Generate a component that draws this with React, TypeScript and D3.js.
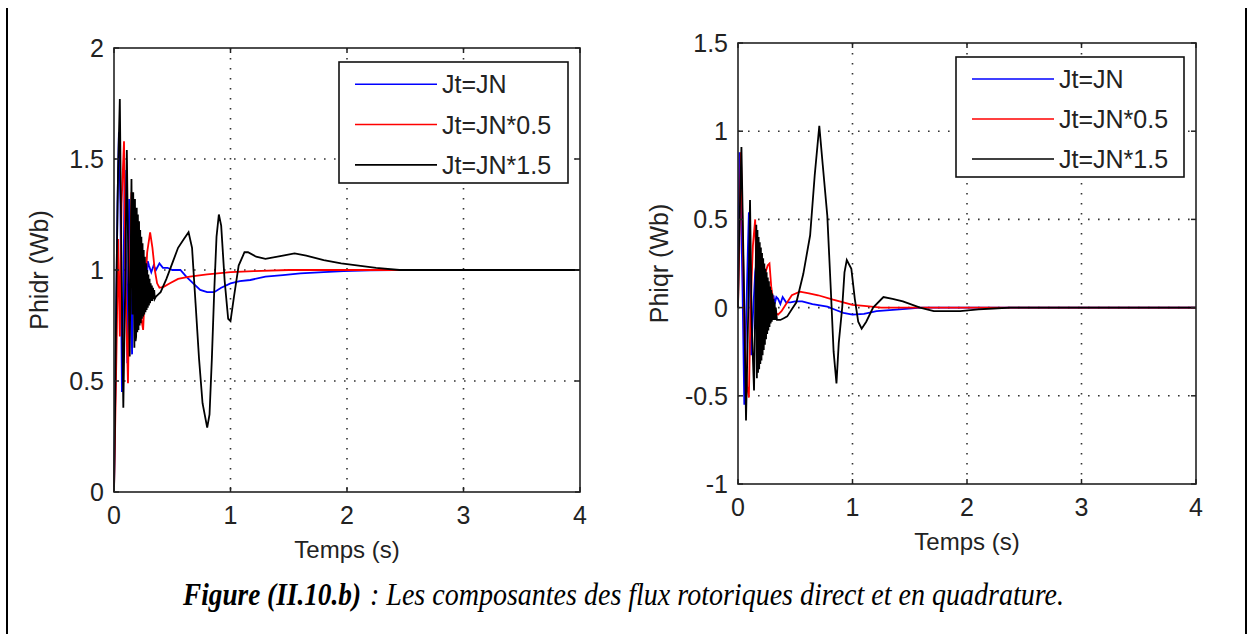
import React from 'react';
import * as d3 from 'd3';

// time ticks shared by both plots
const timeTicks = [0, 1, 2, 3, 4];
const phidrTicks = [0, 0.5, 1, 1.5, 2];
const phiqrTicks = [-1, -0.5, 0, 0.5, 1, 1.5];

const legendLabels = ['Jt=JN', 'Jt=JN*0.5', 'Jt=JN*1.5'];
const seriesColors = ['#0000ff', '#ff0000', '#000000'];

type Pt = [number, number];

// Phidr, Jt=JN
const phidrJN: Pt[] = [
  [0, 0], [0.008, 0.32], [0.015, 0.63], [0.03, 1.3], [0.042, 1.62], [0.055, 1.3], [0.068, 0.45],
  [0.08, 0.9], [0.092, 1.45], [0.105, 1.0], [0.115, 0.58], [0.13, 1.32], [0.145, 0.9], [0.155, 0.62],
  [0.17, 1.2], [0.185, 0.75], [0.2, 1.12], [0.215, 0.8], [0.23, 1.08], [0.245, 0.85], [0.26, 1.05],
  [0.275, 0.9], [0.29, 1.04], [0.3, 1.02], [0.32, 0.99], [0.34, 1.02], [0.36, 1.0], [0.39, 1.03],
  [0.42, 1.01], [0.46, 1.01], [0.5, 1.0], [0.57, 1.0], [0.62, 0.97], [0.68, 0.94], [0.74, 0.91],
  [0.8, 0.9], [0.86, 0.9], [0.92, 0.92], [1.0, 0.94], [1.08, 0.95], [1.17, 0.955], [1.3, 0.97],
  [1.45, 0.977], [1.6, 0.985], [1.8, 0.99], [1.97, 0.995], [2.2, 0.998], [2.4, 1.0], [4, 1.0],
];

// Phidr, Jt=JN*0.5
const phidrJN05: Pt[] = [
  [0, 0], [0.01, 0.3], [0.025, 0.75], [0.036, 1.14], [0.05, 0.7], [0.065, 1.3], [0.086, 1.58],
  [0.1, 0.9], [0.12, 0.49], [0.135, 1.0], [0.15, 1.35], [0.165, 1.2], [0.18, 0.85], [0.2, 1.1],
  [0.215, 0.95], [0.235, 0.78], [0.25, 0.73], [0.265, 0.9], [0.285, 1.08], [0.31, 1.17], [0.33, 1.1],
  [0.35, 1.0], [0.37, 0.94], [0.39, 0.92], [0.43, 0.925], [0.48, 0.94], [0.55, 0.96], [0.65, 0.97],
  [0.8, 0.98], [1.0, 0.99], [1.2, 0.995], [1.5, 1.0], [2.0, 1.0], [2.4, 1.0], [4, 1.0],
];

// Phidr, Jt=JN*1.5
const phidrJN15: Pt[] = [
  [0, 0], [0.008, 0.3], [0.02, 0.9], [0.035, 1.45], [0.05, 1.77], [0.065, 1.0], [0.08, 0.38],
  [0.095, 0.9], [0.11, 1.54], [0.125, 0.95], [0.135, 0.61], [0.15, 1.41], [0.158, 0.8], [0.165, 1.35],
  [0.175, 0.65], [0.18, 1.32], [0.185, 0.68], [0.19, 0.7], [0.195, 1.28], [0.2, 0.72], [0.205, 1.25],
  [0.21, 0.73], [0.215, 1.22],
  [0.22, 0.75], [0.225, 1.18], [0.23, 0.76], [0.235, 1.15], [0.24, 0.78], [0.245, 1.12], [0.25, 0.79],
  [0.255, 1.09], [0.26, 0.8], [0.265, 1.06], [0.27, 0.81], [0.275, 1.03], [0.28, 0.82], [0.285, 1.0],
  [0.29, 0.83], [0.295, 0.98], [0.3, 0.84], [0.305, 0.96], [0.31, 0.85], [0.315, 0.94], [0.32, 0.86],
  [0.325, 0.93], [0.33, 0.86], [0.335, 0.92], [0.34, 0.87], [0.345, 0.91], [0.35, 0.87], [0.36, 0.88],
  [0.38, 0.89], [0.4, 0.9], [0.45, 0.96], [0.5, 1.03], [0.55, 1.1], [0.6, 1.14], [0.64, 1.17],
  [0.67, 1.1], [0.7, 0.85], [0.73, 0.6], [0.76, 0.4], [0.8, 0.29], [0.82, 0.35], [0.84, 0.6],
  [0.86, 0.9], [0.88, 1.15], [0.9, 1.25], [0.92, 1.2], [0.95, 0.95], [0.98, 0.78], [1.0, 0.77],
  [1.03, 0.88], [1.07, 1.02], [1.12, 1.08], [1.15, 1.08], [1.22, 1.06], [1.3, 1.05], [1.45, 1.065],
  [1.55, 1.075], [1.65, 1.065], [1.8, 1.045], [1.95, 1.03], [2.1, 1.02], [2.25, 1.01], [2.45, 1.0],
  [4, 1.0],
];

// Phiqr, Jt=JN
const phiqrJN: Pt[] = [
  [0, 0], [0.005, 0.43], [0.012, 0.88], [0.025, 0.6], [0.04, 0.09], [0.055, -0.55], [0.07, -0.1],
  [0.085, 0.3], [0.095, 0.54], [0.105, 0.1], [0.115, -0.27], [0.13, -0.05], [0.15, 0.2], [0.165, 0.27],
  [0.175, 0.0], [0.185, -0.17], [0.2, 0.05], [0.21, 0.2], [0.225, 0.0], [0.235, -0.05], [0.25, 0.1],
  [0.265, 0.02], [0.28, 0.07], [0.295, 0.0], [0.31, 0.07], [0.32, 0.02], [0.335, 0.06], [0.35, 0.05],
  [0.37, 0.02], [0.39, 0.06], [0.42, 0.03], [0.46, 0.03], [0.5, 0.035], [0.56, 0.035], [0.65, 0.02],
  [0.78, 0.005], [0.86, -0.015], [0.92, -0.03], [1.0, -0.04], [1.1, -0.035], [1.21, -0.02],
  [1.41, -0.01], [1.6, 0], [4, 0],
];

// Phiqr, Jt=JN*0.5
const phiqrJN05: Pt[] = [
  [0, 0], [0.01, 0.3], [0.025, 0.88], [0.04, 0.45], [0.06, -0.2], [0.08, -0.45], [0.095, -0.51],
  [0.11, 0.0], [0.13, 0.35], [0.15, 0.5], [0.16, 0.2], [0.175, -0.15], [0.19, -0.2], [0.205, 0.05],
  [0.22, 0.18], [0.24, 0.2], [0.26, 0.24], [0.275, 0.25], [0.29, 0.12], [0.31, 0.02], [0.33, -0.03],
  [0.35, -0.04], [0.38, -0.02], [0.42, 0.02], [0.47, 0.07], [0.54, 0.09], [0.62, 0.08], [0.7, 0.07],
  [0.83, 0.045], [0.92, 0.03], [1.0, 0.015], [1.1, 0.01], [1.25, 0.0], [4, 0],
];

// Phiqr, Jt=JN*1.5
const phiqrJN15: Pt[] = [
  [0, 0], [0.005, 0.21], [0.01, 0.4], [0.03, 0.91], [0.05, 0.2], [0.07, -0.64], [0.09, 0.0],
  [0.105, 0.61], [0.12, -0.1], [0.14, -0.47], [0.16, 0.47], [0.165, -0.4], [0.17, 0.44], [0.175, -0.37],
  [0.18, 0.4], [0.185, -0.35], [0.19, 0.37], [0.195, -0.32], [0.2, 0.34], [0.205, -0.3], [0.21, 0.31],
  [0.215, -0.27], [0.22, 0.28], [0.225, -0.24], [0.23, 0.25], [0.235, -0.21], [0.24, 0.22],
  [0.245, -0.18], [0.25, 0.2], [0.255, -0.15], [0.26, 0.17], [0.265, -0.13], [0.27, 0.15],
  [0.275, -0.11], [0.28, 0.12], [0.285, -0.09], [0.29, 0.1], [0.295, -0.08], [0.3, 0.08], [0.305, -0.07],
  [0.31, 0.05], [0.315, -0.07], [0.32, 0.03], [0.325, -0.07], [0.33, 0.0], [0.34, -0.07], [0.37, -0.07],
  [0.4, -0.06], [0.43, -0.05], [0.47, -0.01], [0.51, 0.03], [0.57, 0.19], [0.63, 0.41], [0.67, 0.75],
  [0.71, 1.03], [0.74, 0.81], [0.78, 0.52], [0.81, 0.11], [0.835, -0.25], [0.86, -0.43], [0.88, -0.2],
  [0.91, 0.0], [0.93, 0.2], [0.95, 0.27], [0.99, 0.22], [1.02, 0.05], [1.05, -0.08], [1.08, -0.12],
  [1.12, -0.08], [1.18, 0.0], [1.27, 0.06], [1.35, 0.05], [1.44, 0.035], [1.59, 0.0], [1.71, -0.02],
  [1.94, -0.02], [2.1, -0.01], [2.23, -0.005], [2.38, 0], [4, 0],
];

const FONT = '"Liberation Sans", Arial, sans-serif';
const SERIF = '"Liberation Serif", "Times New Roman", serif';
const AX = '#222';

type PanelProps = {
  left: number; top: number; right: number; bottom: number;
  yDomain: [number, number]; yTicks: number[]; yLabel: string; yLabelX: number;
  xLabelY: number; series: Pt[][];
  legend: { x: number; y: number; w: number; h: number };
};

function Panel(p: PanelProps) {
  const x = d3.scaleLinear().domain([0, 4]).range([p.left, p.right]);
  const y = d3.scaleLinear().domain(p.yDomain).range([p.bottom, p.top]);
  const line = d3.line<Pt>().x(d => x(d[0])).y(d => y(d[1]));
  const tk = 5;
  const cx = (p.left + p.right) / 2;
  const cy = (p.top + p.bottom) / 2;
  const rowH = p.legend.h / 3;

  return (
    <g>
      {/* grid */}
      {timeTicks.slice(1, -1).map(t => (
        <line key={'gx' + t} x1={x(t)} x2={x(t)} y1={p.top} y2={p.bottom}
          stroke="#333" strokeWidth={1.6} strokeDasharray="1.6 8.4" />
      ))}
      {p.yTicks.slice(1, -1).map(v => (
        <line key={'gy' + v} x1={p.left} x2={p.right} y1={y(v)} y2={y(v)}
          stroke="#333" strokeWidth={1.6} strokeDasharray="1.6 8.4" />
      ))}
      {/* curves */}
      {p.series.map((s, i) => (
        <path key={'s' + i} d={line(s) || ''} fill="none" stroke={seriesColors[i]}
          strokeWidth={1.8} strokeLinejoin="miter" />
      ))}
      {/* box and ticks */}
      <rect x={p.left} y={p.top} width={p.right - p.left} height={p.bottom - p.top}
        fill="none" stroke={AX} strokeWidth={1.6} />
      {timeTicks.map(t => (
        <g key={'tx' + t}>
          <line x1={x(t)} x2={x(t)} y1={p.bottom} y2={p.bottom - tk} stroke={AX} strokeWidth={1.5} />
          <line x1={x(t)} x2={x(t)} y1={p.top} y2={p.top + tk} stroke={AX} strokeWidth={1.5} />
          <text x={x(t)} y={p.bottom + 32} textAnchor="middle" fontFamily={FONT} fontSize={25} fill={AX}>{t}</text>
        </g>
      ))}
      {p.yTicks.map(v => (
        <g key={'ty' + v}>
          <line x1={p.left} x2={p.left + tk} y1={y(v)} y2={y(v)} stroke={AX} strokeWidth={1.5} />
          <line x1={p.right} x2={p.right - tk} y1={y(v)} y2={y(v)} stroke={AX} strokeWidth={1.5} />
          <text x={p.left - 10} y={y(v) + 9} textAnchor="end" fontFamily={FONT} fontSize={25} fill={AX}>{v}</text>
        </g>
      ))}
      <text x={cx} y={p.xLabelY} textAnchor="middle" fontFamily={FONT} fontSize={24} fill={AX}>Temps (s)</text>
      <text transform={`translate(${p.yLabelX},${cy}) rotate(-90)`} textAnchor="middle"
        fontFamily={FONT} fontSize={25} fill={AX}>{p.yLabel}</text>
      {/* legend */}
      <rect x={p.legend.x} y={p.legend.y} width={p.legend.w} height={p.legend.h}
        fill="#fff" stroke="#111" strokeWidth={1.6} />
      {legendLabels.map((lab, i) => {
        const ly = p.legend.y + rowH * (i + 0.55);
        return (
          <g key={lab}>
            <line x1={p.legend.x + 16} x2={p.legend.x + 98} y1={ly} y2={ly}
              stroke={seriesColors[i]} strokeWidth={1.6} />
            <text x={p.legend.x + 103} y={ly + 9} fontFamily={FONT} fontSize={25} fill={AX}>{lab}</text>
          </g>
        );
      })}
    </g>
  );
}

export default function App() {
  return (
    <svg width={1253} height={634} style={{ position: 'absolute', left: 0, top: 0, background: '#fff' }}>
      <rect x={0} y={0} width={1253} height={634} fill="#fff" />
      <line x1={7} x2={7} y1={8} y2={634} stroke="#000" strokeWidth={2} />
      <line x1={1246} x2={1246} y1={8} y2={634} stroke="#000" strokeWidth={2} />
      <Panel left={114} top={48} right={580} bottom={492}
        yDomain={[0, 2]} yTicks={phidrTicks} yLabel="Phidr (Wb)" yLabelX={48} xLabelY={558}
        series={[phidrJN, phidrJN05, phidrJN15]}
        legend={{ x: 339, y: 62, w: 229, h: 121 }} />
      <Panel left={738} top={43} right={1196} bottom={484}
        yDomain={[-1, 1.5]} yTicks={phiqrTicks} yLabel="Phiqr (Wb)" yLabelX={668} xLabelY={550}
        series={[phiqrJN, phiqrJN05, phiqrJN15]}
        legend={{ x: 956, y: 57, w: 228, h: 120 }} />
      {/* caption, slightly stretched vertically like the original */}
      <g transform="translate(0,605) scale(1,1.2)">
        <text x={183} y={0} fontFamily={SERIF} fontSize={27} fontStyle="italic" fontWeight="bold"
          textLength={178} lengthAdjust="spacingAndGlyphs">Figure (II.10.b)</text>
        <text x={370} y={0} fontFamily={SERIF} fontSize={27} fontStyle="italic"
          textLength={694} lengthAdjust="spacingAndGlyphs">: Les composantes des flux rotoriques direct et en quadrature.</text>
      </g>
    </svg>
  );
}
